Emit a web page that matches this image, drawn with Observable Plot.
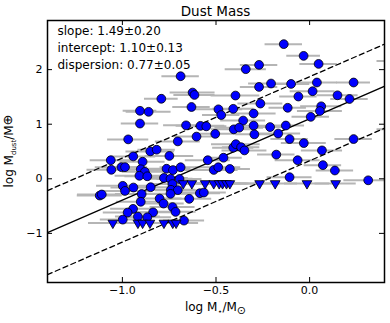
<!DOCTYPE html>
<html>
<head>
<meta charset="utf-8">
<script src="https://cdn.jsdelivr.net/npm/d3@7"></script>
<script src="https://cdn.jsdelivr.net/npm/@observablehq/plot@0.6"></script>
<style>
  html, body { margin: 0; padding: 0; background: white; }
  svg { display: block; }
</style>
</head>
<body>
<div id="chart"></div>
<script>
// ---- data (log M*/Msun, log Mdust/Mearth) ----
const detX = [-0.138,-0.032,0.048,-0.341,-0.270,-0.689,-0.792,-0.625,-0.615,-0.396,
  -0.270,-0.206,-0.099,0.039,0.235,0.016,-0.060,0.149,0.213,-0.263,
  -0.906,-0.860,-0.631,-0.487,-0.408,-0.472,-0.299,-0.117,0.062,0.055,
  0.006,-0.906,-0.660,-0.583,-0.552,-0.355,-0.299,-0.211,-0.405,-0.376,
  -0.127,-0.604,-0.504,-0.295,-0.168,-0.408,-0.394,-0.366,-0.348,-0.460,
  -0.544,-0.178,-0.512,-0.488,-0.426,-0.107,-0.031,0.235,0.066,-0.064,
  0.071,0.135,-0.107,0.313,-0.969,-0.704,-0.851,-0.817,-0.942,-1.062,
  -0.749,-0.892,-1.005,-0.986,-1.059,-0.902,-0.880,-0.909,-0.867,-0.764,
  -0.730,-0.689,-0.778,-0.743,-0.695,-0.998,-0.986,-0.941,-0.849,-0.733,
  -0.741,-0.704,-1.121,-1.110,-0.897,-0.743,-0.902,-0.801,-0.780,-0.643,
  -0.586,-0.565,-0.943,-0.972,-0.732,-0.716,-0.836,-0.917,-0.867,-0.998,
  -0.671,0.46,0.46];
const detY = [2.467,2.252,2.105,2.008,2.087,1.879,1.466,1.580,1.536,1.525,
  1.683,1.745,1.738,1.764,1.764,1.604,1.507,1.530,1.462,1.378,
  1.246,1.227,1.315,1.273,1.282,1.168,1.196,1.301,1.328,1.242,
  1.135,1.012,0.979,0.970,0.961,1.067,0.974,0.948,0.906,0.937,
  0.976,0.773,0.823,0.814,0.829,0.570,0.634,0.579,0.520,0.386,
  0.340,0.443,0.162,0.211,0.180,0.728,0.654,0.728,0.520,0.340,
  0.250,0.152,0.029,-0.028,0.722,0.685,0.502,0.533,0.410,0.340,
  0.419,0.312,0.213,0.213,0.165,0.175,0.127,0.055,0.046,0.184,
  0.160,0.211,0.015,0.000,-0.004,-0.129,-0.222,-0.160,-0.154,-0.096,
  -0.202,-0.208,-0.307,-0.288,-0.279,-0.276,-0.421,-0.362,-0.454,-0.367,
  -0.265,-0.252,-0.551,-0.619,-0.518,-0.606,-0.615,-0.693,-0.705,-0.748,
  -0.766,2.16,0.906];
const detErr = [0.10,0.09,0.10,0.11,0.10,0.10,0.09,0.12,0.11,0.13,
  0.10,0.12,0.10,0.11,0.09,0.12,0.10,0.11,0.10,0.12,
  0.09,0.12,0.10,0.13,0.11,0.10,0.12,0.10,0.11,0.12,
  0.10,0.10,0.12,0.13,0.11,0.12,0.10,0.11,0.12,0.13,
  0.10,0.12,0.11,0.10,0.12,0.11,0.13,0.10,0.12,0.10,
  0.12,0.10,0.13,0.12,0.11,0.10,0.12,0.10,0.11,0.12,
  0.10,0.10,0.12,0.13,0.11,0.12,0.13,0.10,0.12,0.11,
  0.13,0.12,0.14,0.12,0.13,0.14,0.12,0.13,0.12,0.13,
  0.12,0.11,0.13,0.12,0.12,0.14,0.13,0.12,0.14,0.12,
  0.13,0.12,0.12,0.13,0.14,0.12,0.13,0.12,0.11,0.12,
  0.11,0.12,0.12,0.13,0.12,0.11,0.13,0.12,0.13,0.12,
  0.11,0.10,0.10];
const limX = [-1.051,-0.917,-0.892,-0.853,-0.778,-0.731,-0.713,
  -0.675,-0.629,-0.558,-0.512,-0.483,-0.465,-0.444,-0.426,-0.267,-0.184,-0.014,0.139];
const limY = [-0.810,-0.810,-0.810,-0.810,-0.810,-0.810,-0.810,
  -0.086,-0.086,-0.086,-0.086,-0.086,-0.086,-0.086,-0.086,-0.086,-0.086,-0.086,-0.086];
const limErr = [0.13,0.12,0.13,0.12,0.13,0.12,0.12,
  0.12,0.13,0.12,0.11,0.12,0.13,0.12,0.12,0.11,0.12,0.12,0.11];

const fitSlope = 1.49, fitSlopeErr = 0.20;
const fitIntercept = 1.10, fitInterceptErr = 0.13;
const fitDispersion = 0.77, fitDispersionErr = 0.05;

const xDomain = [-1.4, 0.4];
const yDomain = [-1.9, 2.9];
const xTicks = [-1.0, -0.5, 0.0];
const yTicks = [-1, 0, 1, 2];
const titleText = "Dust Mass";

// ---- build tables ----
const det = detX.map((x, i) => ({x, y: detY[i], e: detErr[i]}));
const lim = limX.map((x, i) => ({x, y: limY[i], e: limErr[i]}));
const fitLine = off => xDomain.map(x => ({x, y: fitIntercept + fitSlope * x + off}));
const stats = [
  `slope: ${fitSlope.toFixed(2)}±${fitSlopeErr.toFixed(2)}`,
  `intercept: ${fitIntercept.toFixed(2)}±${fitInterceptErr.toFixed(2)}`,
  `dispersion: ${fitDispersion.toFixed(2)}±${fitDispersionErr.toFixed(2)}`
].join("\n");

const W = 390, H = 323, mT = 20, mB = 41, mL = 47, mR = 6;
const fw = W - mL - mR, fh = H - mT - mB, tk = 5;
const barStyle = {stroke: "#b5b5b5", strokeWidth: 2, clip: true};

const chart = Plot.plot({
  width: W, height: H,
  marginTop: mT, marginBottom: mB, marginLeft: mL, marginRight: mR,
  x: {domain: xDomain},
  y: {domain: yDomain},
  style: {fontFamily: "DejaVu Sans", fontSize: "11px", color: "black", background: "white"},
  marks: [
    Plot.ruleY(det, {y: "y", x1: d => d.x - d.e, x2: d => d.x + d.e, ...barStyle}),
    Plot.ruleY(lim, {y: "y", x1: d => d.x - d.e, x2: d => d.x + d.e, ...barStyle}),
    Plot.line(fitLine(0), {x: "x", y: "y", stroke: "black", strokeWidth: 1.3, clip: true}),
    Plot.line(fitLine(fitDispersion), {x: "x", y: "y", stroke: "black", strokeWidth: 1.3, strokeDasharray: "5,3.5", clip: true}),
    Plot.line(fitLine(-fitDispersion), {x: "x", y: "y", stroke: "black", strokeWidth: 1.3, strokeDasharray: "5,3.5", clip: true}),
    Plot.dot(det, {x: "x", y: "y", r: 4.4, fill: "#0000ff", stroke: "black", strokeWidth: 0.8, clip: true}),
    Plot.dot(lim, {x: "x", y: "y", symbol: "triangle", rotate: 180, r: 3.6, fill: "#0000ff", stroke: "black", strokeWidth: 0.8, clip: true}),
    Plot.frame({stroke: "black", strokeWidth: 1.5}),
    Plot.tickX(xTicks, {x: d => d, insetTop: fh - tk, stroke: "black", strokeWidth: 1}),
    Plot.tickX(xTicks, {x: d => d, insetBottom: fh - tk, stroke: "black", strokeWidth: 1}),
    Plot.tickY(yTicks, {y: d => d, insetRight: fw - tk, stroke: "black", strokeWidth: 1}),
    Plot.tickY(yTicks, {y: d => d, insetLeft: fw - tk, stroke: "black", strokeWidth: 1}),
    Plot.axisX({ticks: xTicks, tickSize: 0, tickPadding: 4, label: null, tickFormat: d3.format(".1f")}),
    Plot.axisY({ticks: yTicks, tickSize: 0, tickPadding: 5, label: null, tickFormat: d3.format("d")}),
    Plot.text([stats], {frameAnchor: "top-left", dx: 10, dy: 2, lineAnchor: "top", lineHeight: 1.42, fontSize: 12, textAnchor: "start", fill: "black"})
  ]
});

document.getElementById("chart").appendChild(chart);

// ---- title and axis labels (with subscripts) ----
const svg = d3.select(chart);
const cx = mL + fw / 2, cy = mT + fh / 2;
svg.append("text").attr("x", cx).attr("y", 16).attr("text-anchor", "middle")
  .attr("font-family", "DejaVu Sans").attr("font-size", 13.5).attr("fill", "black").text(titleText);

const xl = svg.append("text").attr("x", cx).attr("y", 311).attr("text-anchor", "middle")
  .attr("font-family", "DejaVu Sans").attr("font-size", 12).attr("fill", "black");
xl.append("tspan").text("log M");
xl.append("tspan").attr("font-size", 8).attr("dy", 3).text("⋆");
xl.append("tspan").attr("dy", -3).text("/M");
xl.append("tspan").attr("font-size", 11).attr("dy", 3).text("⊙");

const yl = svg.append("text").attr("transform", `translate(13,${cy}) rotate(-90)`).attr("text-anchor", "middle")
  .attr("font-family", "DejaVu Sans").attr("font-size", 12).attr("fill", "black");
yl.append("tspan").text("log M");
yl.append("tspan").attr("font-size", 7).attr("dy", 3).text("dust");
yl.append("tspan").attr("dy", -3).text("/M");
yl.append("tspan").attr("font-size", 13).attr("dy", -1).text("⊕");
</script>
</body>
</html>
